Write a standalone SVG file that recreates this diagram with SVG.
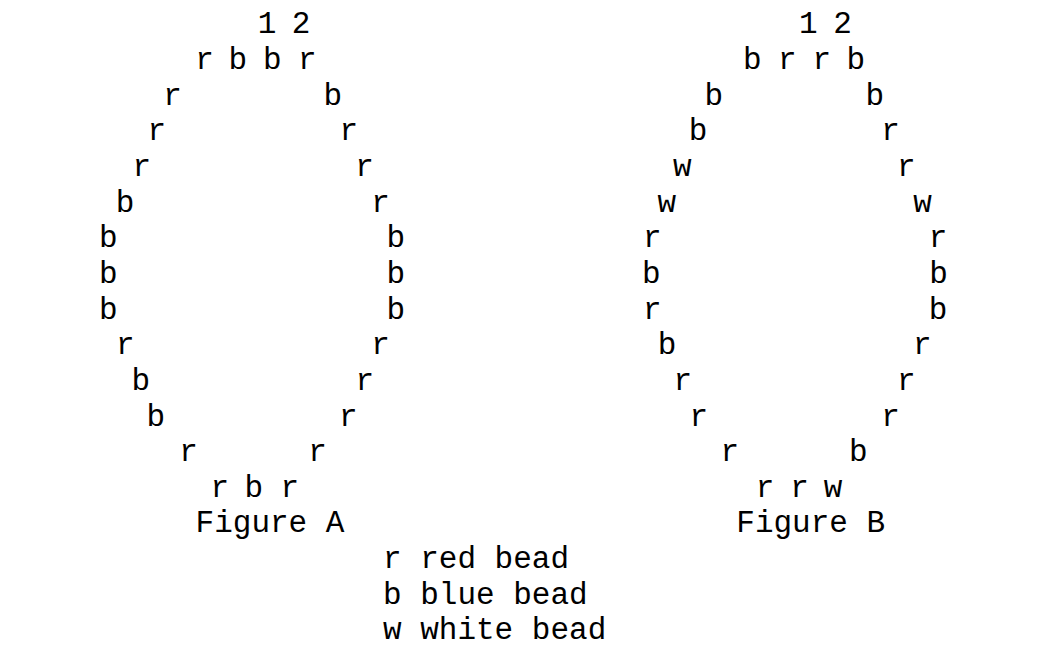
<svg xmlns="http://www.w3.org/2000/svg" width="1061" height="661" viewBox="0 0 1061 661">
<style>
text{font-family:"Courier New","Nimbus Mono PS","FreeMono","Liberation Mono",monospace;font-size:31px;fill:#000}
.c{text-anchor:middle}
</style>
<rect width="1061" height="661" fill="#fff"/>
<g id="figureA">
<text class="c" x="267" y="33">1</text><text class="c" x="301" y="33">2</text>
<text class="c" x="204.5" y="69">r</text><text class="c" x="237.7" y="69">b</text><text class="c" x="272.3" y="69">b</text><text class="c" x="307.2" y="69">r</text>
<text class="c" x="172.5" y="104.6">r</text><text class="c" x="332.8" y="104.6">b</text>
<text class="c" x="156.7" y="140.3">r</text><text class="c" x="348.7" y="140.3">r</text>
<text class="c" x="141.7" y="175.9">r</text><text class="c" x="364.5" y="175.9">r</text>
<text class="c" x="125" y="211.6">b</text><text class="c" x="380.5" y="211.6">r</text>
<text class="c" x="108.3" y="247.2">b</text><text class="c" x="395.8" y="247.2">b</text>
<text class="c" x="108.3" y="282.9">b</text><text class="c" x="395.8" y="282.9">b</text>
<text class="c" x="108.3" y="318.5">b</text><text class="c" x="395.8" y="318.5">b</text>
<text class="c" x="125.2" y="354.2">r</text><text class="c" x="380.5" y="354.2">r</text>
<text class="c" x="140.7" y="389.8">b</text><text class="c" x="364.7" y="389.8">r</text>
<text class="c" x="155.8" y="425.5">b</text><text class="c" x="348.2" y="425.5">r</text>
<text class="c" x="188.5" y="461.1">r</text><text class="c" x="317.5" y="461.1">r</text>
<text class="c" x="219.8" y="496.8">r</text><text class="c" x="253.7" y="496.8">b</text><text class="c" x="289.8" y="496.8">r</text>
<text class="c" x="270" y="532.4">Figure A</text>
</g>
<g id="figureB">
<text class="c" x="808.3" y="33">1</text><text class="c" x="842.5" y="33">2</text>
<text class="c" x="752.2" y="69">b</text><text class="c" x="787.2" y="69">r</text><text class="c" x="821.7" y="69">r</text><text class="c" x="855.8" y="69">b</text>
<text class="c" x="713.8" y="104.6">b</text><text class="c" x="874.7" y="104.6">b</text>
<text class="c" x="698" y="140.3">b</text><text class="c" x="890.5" y="140.3">r</text>
<text class="c" x="682.2" y="175.9">w</text><text class="c" x="906.3" y="175.9">r</text>
<text class="c" x="666.8" y="211.6">w</text><text class="c" x="922.5" y="211.6">w</text>
<text class="c" x="652.2" y="247.2">r</text><text class="c" x="938" y="247.2">r</text>
<text class="c" x="651.3" y="282.9">b</text><text class="c" x="938.5" y="282.9">b</text>
<text class="c" x="652.2" y="318.5">r</text><text class="c" x="938" y="318.5">b</text>
<text class="c" x="667" y="354.2">b</text><text class="c" x="922.2" y="354.2">r</text>
<text class="c" x="682.8" y="389.8">r</text><text class="c" x="906.3" y="389.8">r</text>
<text class="c" x="698.8" y="425.5">r</text><text class="c" x="890.5" y="425.5">r</text>
<text class="c" x="729.7" y="461.1">r</text><text class="c" x="858.3" y="461.1">b</text>
<text class="c" x="765" y="496.8">r</text><text class="c" x="799.5" y="496.8">r</text><text class="c" x="833" y="496.8">w</text>
<text class="c" x="810.7" y="532.4">Figure B</text>
</g>
<g id="legend">
<text x="383" y="568">r red bead</text>
<text x="383" y="603.7">b blue bead</text>
<text x="383" y="639.4">w white bead</text>
</g>
</svg>
